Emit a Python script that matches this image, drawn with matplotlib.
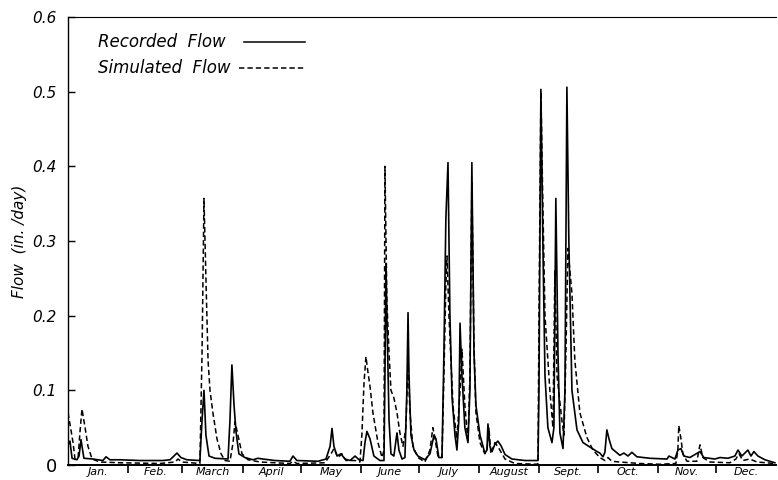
import matplotlib.pyplot as plt
from matplotlib.ticker import FixedLocator, NullFormatter, FixedFormatter

recorded_day = [0, 1.0, 2.1, 4.6, 5.7, 6.7, 8.2, 12.9, 18.0, 19.6, 21.6, 26.8, 37.1, 49.0,
                52.6, 54.6, 56.2, 58.2, 61.3, 68.0, 69.1, 70.1, 71.1, 72.7, 75.8, 82.5,
                83.5, 84.5, 85.6, 86.6, 88.1, 91.2, 95.4, 97.9, 100.5, 106.7, 114.4, 116.0,
                118.0, 128.9, 133.0, 135.1, 136.1, 137.1, 138.7, 140.7, 142.8, 145.4, 148.0,
                150.0, 152.1, 153.1, 154.1, 155.7, 157.7, 160.8, 162.9, 163.4, 163.9, 164.4,
                165.5, 166.5, 168.0, 169.6, 170.6, 172.2, 173.7, 174.7, 175.3, 175.8, 176.8,
                178.4, 180.4, 184.0, 186.6, 188.7, 189.7, 191.2, 192.8, 193.8, 194.8, 195.9,
                196.9, 198.0, 199.5, 200.5, 201.5, 202.1, 203.1, 204.6, 206.2, 207.2, 208.2,
                209.3, 210.3, 212.4, 214.9, 216.0, 216.5, 217.5, 218.6, 220.1, 221.6, 223.2,
                225.3, 228.9, 235.6, 242.3, 242.8, 243.8, 244.8, 245.9, 247.4, 249.5, 250.5,
                251.5, 252.6, 253.6, 255.2, 256.2, 257.2, 258.2, 259.8, 262.4, 265.5, 269.1,
                272.7, 274.2, 275.8, 276.8, 277.8, 278.9, 280.4, 284.5, 286.6, 288.7, 290.7,
                293.3, 300.0, 308.8, 309.8, 312.9, 314.4, 316.0, 317.5, 320.6, 325.8, 327.8,
                333.5, 336.1, 340.2, 343.8, 345.4, 347.4, 350.5, 352.1, 353.6, 355.7, 359.3,
                364.4]
recorded_flow = [0.027, 0.032, 0.009, 0.007, 0.012, 0.034, 0.009, 0.008, 0.006, 0.011, 0.007,
                 0.007, 0.006, 0.006, 0.007, 0.012, 0.016, 0.010, 0.007, 0.006, 0.060, 0.100,
                 0.040, 0.012, 0.009, 0.008, 0.060, 0.134, 0.080, 0.045, 0.015, 0.010, 0.007,
                 0.009, 0.008, 0.006, 0.005, 0.012, 0.006, 0.005, 0.008, 0.025, 0.049, 0.025,
                 0.012, 0.015, 0.008, 0.006, 0.012, 0.007, 0.006, 0.030, 0.045, 0.035, 0.012,
                 0.006, 0.006, 0.120, 0.270, 0.200, 0.060, 0.015, 0.012, 0.043, 0.020, 0.008,
                 0.010, 0.100, 0.204, 0.120, 0.040, 0.020, 0.012, 0.007, 0.015, 0.040, 0.035,
                 0.010, 0.010, 0.150, 0.330, 0.405, 0.200, 0.090, 0.040, 0.020, 0.060, 0.190,
                 0.120, 0.050, 0.030, 0.100, 0.405, 0.150, 0.080, 0.040, 0.016, 0.020, 0.055,
                 0.025, 0.018, 0.028, 0.032, 0.026, 0.014, 0.008, 0.006, 0.006, 0.100, 0.503,
                 0.300, 0.120, 0.050, 0.030, 0.050, 0.357, 0.150, 0.043, 0.022, 0.100, 0.506,
                 0.300, 0.100, 0.047, 0.030, 0.024, 0.018, 0.016, 0.011, 0.017, 0.047, 0.035,
                 0.022, 0.013, 0.016, 0.012, 0.017, 0.011, 0.009, 0.008, 0.012, 0.008, 0.020,
                 0.022, 0.012, 0.010, 0.018, 0.010, 0.008, 0.010, 0.009, 0.012, 0.020, 0.012,
                 0.020, 0.012, 0.018, 0.012, 0.007, 0.003]

simulated_day = [0, 1.0, 2.6, 3.6, 5.2, 6.2, 7.2, 8.8, 10.3, 12.4, 16.5, 26.8, 47.4, 55.2,
                 56.7, 58.8, 68.0, 69.1, 70.1, 71.1, 72.2, 73.2, 74.7, 76.8, 78.9, 80.9, 83.5,
                 85.1, 86.1, 87.6, 89.7, 92.8, 99.0, 114.4, 116.0, 118.0, 132.5, 135.6, 137.1,
                 139.2, 141.2, 143.3, 148.0, 150.5, 151.5, 152.6, 153.6, 154.6, 155.7, 157.2,
                 159.8, 161.9, 162.9, 163.4, 164.4, 165.5, 166.5, 168.0, 169.6, 171.1, 172.7,
                 174.2, 175.3, 176.3, 177.8, 180.4, 184.0, 186.6, 188.1, 189.2, 190.7, 192.8,
                 193.8, 194.8, 195.4, 196.4, 198.5, 200.5, 202.1, 203.1, 204.6, 206.2, 207.2,
                 208.2, 209.3, 210.3, 212.4, 214.9, 216.0, 217.0, 218.0, 220.1, 222.2, 225.3,
                 230.4, 242.3, 242.8, 243.8, 244.8, 245.9, 248.5, 250.0, 251.0, 252.1, 254.6,
                 255.7, 256.7, 257.7, 259.8, 261.3, 263.9, 267.5, 270.6, 274.2, 276.8, 278.4,
                 280.4, 284.5, 294.8, 305.2, 313.4, 314.4, 314.9, 316.0, 317.0, 319.1, 324.2,
                 325.8, 327.3, 330.9, 341.2, 344.3, 345.9, 347.9, 351.5, 355.2, 364.4]
simulated_flow = [0.070, 0.055, 0.030, 0.008, 0.010, 0.045, 0.075, 0.050, 0.025, 0.008, 0.004,
                  0.003, 0.002, 0.004, 0.008, 0.004, 0.002, 0.150, 0.357, 0.250, 0.140, 0.100,
                  0.070, 0.035, 0.015, 0.006, 0.005, 0.030, 0.058, 0.040, 0.015, 0.007, 0.004,
                  0.002, 0.005, 0.002, 0.003, 0.015, 0.022, 0.010, 0.015, 0.006, 0.006, 0.004,
                  0.040, 0.110, 0.145, 0.125, 0.105, 0.070, 0.030, 0.010, 0.020, 0.400, 0.220,
                  0.150, 0.100, 0.090, 0.070, 0.043, 0.025, 0.050, 0.140, 0.070, 0.025, 0.010,
                  0.004, 0.020, 0.050, 0.035, 0.012, 0.010, 0.120, 0.240, 0.280, 0.200, 0.078,
                  0.035, 0.100, 0.155, 0.080, 0.030, 0.120, 0.380, 0.160, 0.070, 0.030, 0.015,
                  0.020, 0.050, 0.015, 0.030, 0.022, 0.008, 0.002, 0.001, 0.200, 0.500, 0.350,
                  0.200, 0.097, 0.050, 0.260, 0.120, 0.060, 0.040, 0.150, 0.290, 0.230, 0.140,
                  0.070, 0.037, 0.020, 0.010, 0.006, 0.010, 0.005, 0.004, 0.002, 0.001, 0.002,
                  0.020, 0.053, 0.035, 0.015, 0.005, 0.005, 0.027, 0.010, 0.004, 0.003, 0.008,
                  0.015, 0.006, 0.008, 0.004, 0.002]

month_starts = [0, 31, 59, 90, 120, 151, 181, 212, 243, 273, 304, 334, 365]
month_labels = ["Jan.", "Feb.", "March", "April", "May", "June", "July", "August",
                "Sept.", "Oct.", "Nov.", "Dec."]
y_ticks = [0, 0.1, 0.2, 0.3, 0.4, 0.5, 0.6]
y_labels = ["0", "0.1", "0.2", "0.3", "0.4", "0.5", "0.6"]


def _key(ax, y, label, x0, **style):
    # text first, sample line after it, as in the original figure
    ax.text(0.042, y, label, transform=ax.transAxes, ha="left", va="center",
            fontstyle="italic", fontsize=12)
    ax.plot([x0, 0.335], [y, y], transform=ax.transAxes, color="black",
            clip_on=False, **style)


def main():
    fig = plt.figure(figsize=(7.78, 4.8), dpi=100)
    ax = fig.add_axes([68 / 778, 15 / 480, 708 / 778, 448 / 480])

    ax.plot(recorded_day, recorded_flow, color="black", lw=1.2)
    ax.plot(simulated_day, simulated_flow, color="black", lw=1.1, dashes=(3.5, 2))

    ax.set_xlim(0, 365)
    ax.set_ylim(0, 0.6)

    # month boundaries as ticks, names centred in between
    ax.xaxis.set_major_locator(FixedLocator(month_starts[1:-1]))
    ax.xaxis.set_major_formatter(NullFormatter())
    mids = [(a + b) / 2 for a, b in zip(month_starts[:-1], month_starts[1:])]
    ax.xaxis.set_minor_locator(FixedLocator(mids))
    ax.xaxis.set_minor_formatter(FixedFormatter(month_labels))
    ax.tick_params(axis="x", which="major", direction="out", length=6, width=1.2)
    ax.tick_params(axis="x", which="minor", length=0, pad=1.5, labelsize=8)
    for lab in ax.get_xticklabels(minor=True):
        lab.set_fontstyle("italic")

    ax.set_yticks(y_ticks)
    ax.set_yticklabels(y_labels)
    ax.tick_params(axis="y", direction="in", length=5, width=1, labelsize=11, pad=8)
    for lab in ax.get_yticklabels():
        lab.set_fontstyle("italic")
    ax.get_yticklabels()[0].set_fontstyle("normal")
    ax.get_yticklabels()[0].set_fontsize(13)

    ax.set_ylabel("Flow  (in. /day)", fontstyle="italic", fontsize=11, labelpad=4)

    ax.spines["right"].set_visible(False)
    ax.spines["top"].set_linewidth(0.8)
    ax.spines["left"].set_linewidth(1.0)
    ax.spines["bottom"].set_linewidth(1.4)

    _key(ax, 0.944, "Recorded  Flow", 0.249, lw=1.1)
    _key(ax, 0.886, "Simulated  Flow", 0.241, lw=1.1, dashes=(3.5, 2))

    fig.savefig("out.png", dpi=100)


if __name__ == '__main__':
    main()
